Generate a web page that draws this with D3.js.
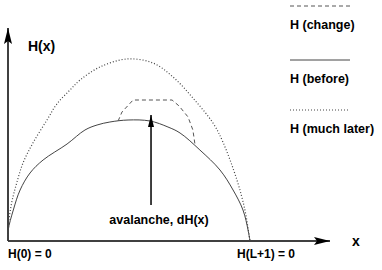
<html>
<head>
<meta charset="utf-8">
<style>
  body { margin: 0; background: #fff; }
  svg text { font-family: "Liberation Sans", Arial, sans-serif; font-weight: bold; fill: #000; }
</style>
</head>
<body>
<svg width="382" height="270"></svg>
<script src="https://d3js.org/d3.v7.min.js"></script>
<script>
// position along the pile (0 .. L+1) and height H
var before = [
  [0, 0], [0.1, 5.5], [2.2, 15.5], [5, 25.5], [9.1, 34], [14.5, 40.5], [24.4, 48.5],
  [31.8, 55.5], [36.8, 58], [42.1, 59.5], [49.6, 60.5], [58.7, 60], [66.1, 57],
  [71.1, 54], [79.3, 45.5], [87.6, 35.5], [93, 25.5], [97.1, 15.5], [99.2, 5.5], [100, 0]
]
var muchLater = [
  [0, 0], [0.1, 7], [1.5, 19], [3.6, 29], [6.2, 39], [10.3, 49], [16.1, 60.5], [20.2, 68.5],
  [25.6, 75.5], [29.8, 80.5], [38, 87], [49.2, 91], [59.9, 89], [68.2, 82], [76.4, 71.5],
  [84.7, 59], [88.8, 49.5], [94.6, 30.5], [97.9, 15.5], [99.6, 3], [100, 0]
]
var change = [
  [45.5, 60], [47.1, 64.5], [51.7, 70.5], [67.8, 70.5], [70.7, 67.5], [74.4, 62], [76.4, 55.5], [77.3, 48]
]
var avalanche = { x: 59.1, from: 18, to: 63, label: "avalanche, dH(x)" }
var legendLabels = ["H (change)", "H (before)", "H (much later)"]
var bottomLabels = [{ x: 0, text: "H(0) = 0" }, { x: 100, text: "H(L+1) = 0" }]

var svg = d3.select("svg")
var x = d3.scaleLinear().domain([0, 100]).range([8, 250])
var y = d3.scaleLinear().domain([0, 100]).range([241, 41])

// arrow heads
var defs = svg.append("defs")
defs.append("marker").attr("id", "head")
  .attr("viewBox", "0 0 16 8").attr("refX", 16).attr("refY", 4)
  .attr("markerWidth", 16).attr("markerHeight", 8)
  .attr("markerUnits", "userSpaceOnUse").attr("orient", "auto")
  .append("path").attr("d", "M0,0 L16,4 L0,8 L3,4 Z").attr("fill", "#000")
defs.append("marker").attr("id", "head2")
  .attr("viewBox", "0 0 12 6").attr("refX", 12).attr("refY", 3)
  .attr("markerWidth", 12).attr("markerHeight", 6)
  .attr("markerUnits", "userSpaceOnUse").attr("orient", "auto")
  .append("path").attr("d", "M0,0 L12,3 L0,6 Z").attr("fill", "#000")

// axes
svg.append("line")
  .attr("x1", x(0)).attr("y1", y(0)).attr("x2", x(0)).attr("y2", 28)
  .attr("stroke", "#000").attr("stroke-width", 1.5).attr("marker-end", "url(#head)")
svg.append("line")
  .attr("x1", x(0)).attr("y1", y(0)).attr("x2", 330).attr("y2", y(0))
  .attr("stroke", "#000").attr("stroke-width", 1.5).attr("marker-end", "url(#head)")

svg.append("text").attr("x", 28).attr("y", 51).attr("font-size", 14).text("H(x)")
svg.append("text").attr("x", 352).attr("y", 246).attr("font-size", 14).text("x")

svg.selectAll(".blab").data(bottomLabels).enter().append("text")
  .attr("class", "blab")
  .attr("x", function (d) { return d.x === 0 ? x(d.x) : x(d.x) - 13 })
  .attr("y", 258).attr("font-size", 12)
  .text(function (d) { return d.text })

var smooth = d3.line()
  .x(function (d) { return x(d[0]) })
  .y(function (d) { return y(d[1]) })
  .curve(d3.curveCatmullRom)
var straight = d3.line()
  .x(function (d) { return x(d[0]) })
  .y(function (d) { return y(d[1]) })

var styles = [
  { dash: "4,3", color: "#555", width: 1 },
  { dash: null, color: "#444", width: 1 },
  { dash: "1,2", color: "#444", width: 1.2 }
]

svg.append("path").attr("d", smooth(muchLater)).attr("fill", "none")
  .attr("stroke", styles[2].color).attr("stroke-width", styles[2].width)
  .attr("stroke-dasharray", styles[2].dash)
svg.append("path").attr("d", smooth(before)).attr("fill", "none")
  .attr("stroke", styles[1].color).attr("stroke-width", styles[1].width)
svg.append("path").attr("d", straight(change)).attr("fill", "none")
  .attr("stroke", styles[0].color).attr("stroke-width", styles[0].width)
  .attr("stroke-dasharray", styles[0].dash)

// avalanche arrow
svg.append("line")
  .attr("x1", x(avalanche.x)).attr("y1", y(avalanche.from))
  .attr("x2", x(avalanche.x)).attr("y2", y(avalanche.to))
  .attr("stroke", "#000").attr("stroke-width", 1.5).attr("marker-end", "url(#head2)")
svg.append("text").attr("x", x(avalanche.x) + 8).attr("y", 224)
  .attr("text-anchor", "middle").attr("font-size", 12.5).text(avalanche.label)

// legend
var lineYs = [6, 60, 110]
var legend = svg.selectAll(".leg").data(legendLabels).enter().append("g").attr("class", "leg")
legend.append("line")
  .attr("x1", 290).attr("x2", 350)
  .attr("y1", function (d, i) { return lineYs[i] }).attr("y2", function (d, i) { return lineYs[i] })
  .attr("stroke", function (d, i) { return styles[i].color })
  .attr("stroke-width", function (d, i) { return styles[i].width })
  .attr("stroke-dasharray", function (d, i) { return styles[i].dash })
legend.append("text")
  .attr("x", 290).attr("y", function (d, i) { return lineYs[i] + 23 })
  .attr("font-size", 12.5).text(function (d) { return d })
</script>
</body>
</html>
